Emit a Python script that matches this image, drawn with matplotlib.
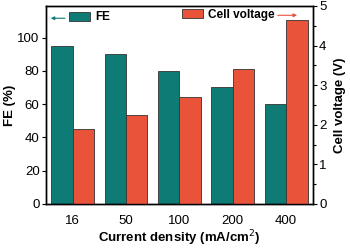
import numpy as np
import matplotlib.pyplot as plt
from matplotlib.patches import Patch
from matplotlib.ticker import MultipleLocator

plt.rcParams['font.family'] = ['Liberation Sans', 'DejaVu Sans']

densities = ['16', '50', '100', '200', '400']
fe = [95, 90, 80, 70, 60]
voltage = [1.88, 2.24, 2.70, 3.42, 4.64]

teal = '#0e7b74'
red = '#e8533a'

fig = plt.figure(figsize=(3.5, 2.49), dpi=100)
ax = fig.add_axes([0.131, 0.181, 0.763, 0.795])
ax2 = ax.twinx()

x = np.arange(len(densities))
w = 0.4
ax.bar(x - w / 2, fe, w, color=teal, edgecolor='#333333', linewidth=0.6)
ax2.bar(x + w / 2, voltage, w, color=red, edgecolor='#333333', linewidth=0.6)

ax.set_xlim(-0.5, 4.5)
ax.set_ylim(0, 119)
ax2.set_ylim(0, 5)
ax.set_yticks([0, 20, 40, 60, 80, 100])
ax2.yaxis.set_major_locator(MultipleLocator(1))
ax2.yaxis.set_minor_locator(MultipleLocator(0.5))
ax.set_xticks(x)
ax.set_xticklabels(densities)

for a in (ax, ax2):
    a.tick_params(labelsize=9.5, width=0.8, length=3, direction='out', pad=1.5)
    for s in a.spines.values():
        s.set_linewidth(1.0)
ax.tick_params(axis='x', length=0, pad=8)
ax2.tick_params(which='minor', length=2, width=0.8)

ax.set_xlabel('Current density (mA/cm$^2$)', fontsize=9.5, fontweight='bold', labelpad=1)
ax.set_ylabel('FE (%)', fontsize=9.5, fontweight='bold', labelpad=1)
ax2.set_ylabel('Cell voltage (V)', fontsize=9.5, fontweight='bold', labelpad=5)

legkw = dict(frameon=False, prop={'size': 8.5, 'weight': 'bold'}, handlelength=1.8,
             handleheight=0.8, handletextpad=0.4, borderpad=0, borderaxespad=0)
leg1 = ax2.legend(handles=[Patch(facecolor=teal, edgecolor='#333333', linewidth=0.6, label='FE')],
                  loc='center left', bbox_to_anchor=(0.086, 0.942), **legkw)
ax2.add_artist(leg1)
ax2.legend(handles=[Patch(facecolor=red, edgecolor='#333333', linewidth=0.6, label='Cell voltage')],
           loc='center left', bbox_to_anchor=(0.509, 0.955), **legkw)

ax2.annotate('', xy=(0.008, 0.938), xytext=(0.082, 0.938), xycoords='axes fraction',
             arrowprops=dict(arrowstyle='-|>', color=teal, lw=0.8, mutation_scale=5))
ax2.annotate('', xy=(0.951, 0.953), xytext=(0.858, 0.953), xycoords='axes fraction',
             arrowprops=dict(arrowstyle='-|>', color=red, lw=0.8, mutation_scale=5))

fig.savefig('out.png', dpi=100)
